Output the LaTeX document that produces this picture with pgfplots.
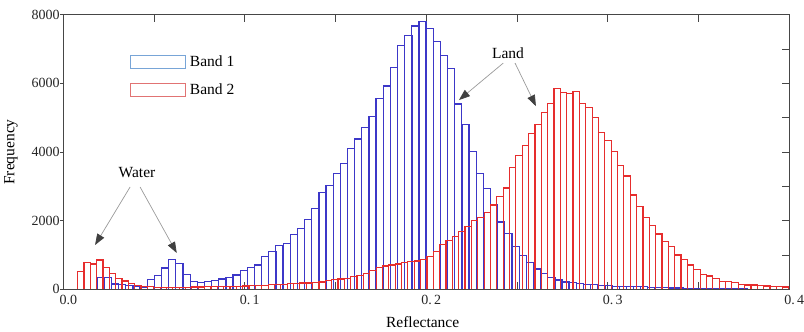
\documentclass[border=0pt]{standalone}
\usepackage{fontspec}
\setmainfont{Liberation Serif}
\usepackage{pgfplots}
\pgfplotsset{compat=1.18}
\usepackage{pgfplotstable}
\usetikzlibrary{arrows.meta}

\definecolor{bblue}{RGB}{60,55,200}
\definecolor{rred}{RGB}{230,45,45}
\definecolor{lblue}{RGB}{120,165,215}
\definecolor{lred}{RGB}{225,115,115}
\definecolor{axgray}{RGB}{70,70,70}
\newcommand\lblfont{\fontsize{15.5bp}{18bp}\selectfont}
\newcommand\tickfont{\fontsize{14bp}{16bp}\selectfont}

% Band 1: bin centre, count
\pgfplotstableread{
x y
0.0206 340
0.0246 340
0.0285 155
0.0325 150
0.0364 110
0.0403 95
0.0443 65
0.0482 280
0.0522 400
0.0561 620
0.0600 873
0.0640 757
0.0679 437
0.0719 223
0.0758 204
0.0797 223
0.0837 252
0.0876 300
0.0916 339
0.0955 417
0.0994 550
0.1034 630
0.1073 708
0.1113 950
0.1152 1100
0.1191 1270
0.1231 1340
0.1270 1600
0.1310 1780
0.1349 2040
0.1388 2360
0.1428 2830
0.1467 3020
0.1507 3380
0.1546 3670
0.1585 4110
0.1625 4380
0.1664 4720
0.1704 5030
0.1743 5560
0.1782 5920
0.1822 6460
0.1861 7100
0.1901 7390
0.1940 7670
0.1979 7800
0.2019 7603
0.2058 7214
0.2098 6800
0.2137 6437
0.2176 5400
0.2216 4808
0.2255 4009
0.2295 3370
0.2334 2940
0.2373 2470
0.2413 1960
0.2452 1620
0.2492 1242
0.2531 980
0.2570 770
0.2610 590
0.2649 450
0.2689 340
0.2728 270
0.2767 215
0.2807 190
0.2846 170
0.2886 150
0.2925 130
0.2964 110
0.3004 100
0.3043 90
0.3083 85
0.3122 80
0.3161 75
0.3201 70
0.3240 60
0.3280 50
0.3319 45
0.3358 40
0.3398 35
0.3437 30
0.3477 25
0.3516 20
0.3555 20
0.3595 15
0.3634 15
0.3674 10
0.3713 10
0.3752 10
0.3792 5
0.3831 5
0.3871 5
0.3910 5
0.3949 5
}\bandone

% Band 2: bin centre, count
\pgfplotstableread{
x y
0.0096 513
0.0131 786
0.0166 737
0.0201 853
0.0236 640
0.0271 450
0.0306 320
0.0341 240
0.0376 180
0.0411 120
0.0446 85
0.0481 70
0.0516 60
0.0551 55
0.0586 55
0.0621 55
0.0656 60
0.0691 60
0.0726 65
0.0761 65
0.0796 70
0.0831 75
0.0866 75
0.0901 80
0.0936 85
0.0971 90
0.1006 96
0.1041 100
0.1076 106
0.1111 120
0.1146 136
0.1181 138
0.1216 140
0.1251 160
0.1286 170
0.1321 184
0.1356 185
0.1391 194
0.1426 210
0.1461 245
0.1496 280
0.1531 300
0.1566 325
0.1601 375
0.1636 410
0.1671 460
0.1706 540
0.1741 640
0.1776 680
0.1811 705
0.1846 735
0.1881 770
0.1916 806
0.1951 825
0.1986 870
0.2021 950
0.2056 1100
0.2091 1300
0.2126 1420
0.2161 1540
0.2196 1690
0.2231 1840
0.2266 2000
0.2301 2100
0.2336 2240
0.2371 2456
0.2406 2700
0.2441 2950
0.2476 3550
0.2511 3900
0.2546 4200
0.2581 4550
0.2616 4800
0.2651 5150
0.2686 5420
0.2721 5854
0.2756 5730
0.2791 5700
0.2826 5760
0.2861 5418
0.2896 5300
0.2931 5010
0.2966 4562
0.3001 4329
0.3036 4009
0.3071 3601
0.3106 3300
0.3141 2747
0.3176 2407
0.3211 2097
0.3246 1855
0.3281 1611
0.3316 1386
0.3351 1241
0.3386 999
0.3421 874
0.3456 708
0.3491 583
0.3526 437
0.3561 387
0.3596 320
0.3631 223
0.3666 223
0.3701 194
0.3736 145
0.3771 126
0.3806 126
0.3841 107
0.3876 97
0.3911 78
0.3946 78
0.3981 68
}\bandtwo

\begin{document}
\begin{tikzpicture}
\begin{axis}[
  scale only axis, width=726bp, height=274.6bp,
  xmin=0, xmax=0.4, ymin=0, ymax=8000,
  axis line style={draw=axgray, line width=1.3bp},
  tick style={draw=axgray, line width=0.9bp},
  tick align=inside,
  xtick={0,0.1,0.2,0.3,0.4},
  minor xtick={0.05,0.15,0.25,0.35},
  xticklabels={{0.0},{0.\thinspace1},{0.\thinspace2},{0.\thinspace3},{0.\thinspace4}},
  xtick pos=both, xticklabel pos=lower,
  ytick={1000,2000,3000,4000,5000,6000,7000},
  yticklabels={},
  ytick pos=right,
  major tick length=7bp, minor tick length=7bp,
  xticklabel style={font=\tickfont, text=black!85, xshift=5bp, yshift=-2.5bp},
  xlabel={Reflectance},
  xlabel style={font=\lblfont, at={(axis description cs:0.495,-0.119)}, anchor=center},
  legend style={at={(rel axis cs:0.0919,0.8587)}, anchor=north west, draw=none, fill=none,
    inner sep=0pt, outer sep=0pt, row sep=12bp, font=\lblfont,
    /tikz/every odd column/.append style={column sep=2bp}},
  legend cell align=left,
]
\coordinate (bl) at (rel axis cs:0,0);
\coordinate (tr) at (rel axis cs:1,1);
\addplot[ybar, bar width=0.00394, bar shift=0pt, draw=bblue, fill=none, line width=1.2bp, forget plot] table {\bandone};
\addplot[ybar, bar width=0.0035, bar shift=0pt, draw=rred, fill=none, line width=1.2bp, forget plot] table {\bandtwo};
\addlegendimage{legend image code/.code={\draw[draw=lblue, line width=0.9bp] (0bp,-6.5bp) rectangle (55bp,6.5bp);}}
\addlegendentry{Band 1}
\addlegendimage{legend image code/.code={\draw[draw=lred, line width=0.9bp] (0bp,-6.5bp) rectangle (55bp,6.5bp);}}
\addlegendentry{Band 2}
\node[font=\lblfont] at (axis cs:0.0406,3390) {Water};
\node[font=\lblfont] at (axis cs:0.245,6882) {Land};
\draw[draw=black!40, line width=0.7bp, -{Triangle[length=11bp, width=8bp, color=black!75]}] (axis cs:0.0368,2980) -- (axis cs:0.0175,1290);
\draw[draw=black!40, line width=0.7bp, -{Triangle[length=11bp, width=8bp, color=black!75]}] (axis cs:0.0423,2980) -- (axis cs:0.0625,1057);
\draw[draw=black!40, line width=0.7bp, -{Triangle[length=11bp, width=8bp, color=black!75]}] (axis cs:0.2424,6590) -- (axis cs:0.218,5514);
\draw[draw=black!40, line width=0.7bp, -{Triangle[length=11bp, width=8bp, color=black!75]}] (axis cs:0.2489,6590) -- (axis cs:0.2604,5336);
\end{axis}
\begin{axis}[
  scale only axis, width=726bp, height=274.6bp,
  xmin=0, xmax=0.4, ymin=0, ymax=8000,
  axis line style={draw=axgray, line width=1.3bp},
  tick style={draw=axgray, line width=0.9bp},
  xtick=\empty,
  ytick={0,2000,4000,6000,8000},
  yticklabels={0,2000,4000,6000,8000},
  ytick pos=left, tick align=outside, major tick length=3.5bp,
  yticklabel style={font=\tickfont, inner sep=0pt, text=black!85},
  ylabel={Frequency},
  ylabel style={font=\lblfont, at={(axis description cs:-0.072,0.5)}, anchor=center},
]
\end{axis}
\pgfresetboundingbox
\path ([shift={(-63.3bp,-42.7bp)}]bl) rectangle ([shift={(14.7bp,14.7bp)}]tr);
\end{tikzpicture}
\end{document}
